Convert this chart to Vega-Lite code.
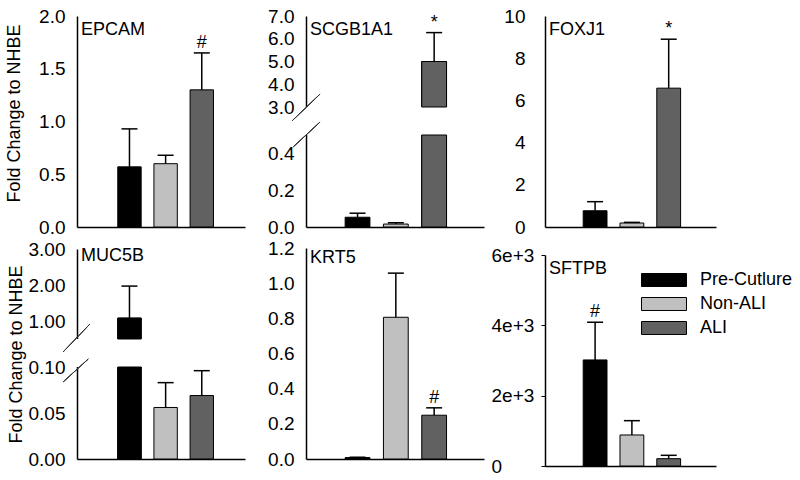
{
  "$schema": "https://vega.github.io/schema/vega-lite/v6.json",
  "padding": {"left": 5, "top": 7, "right": 0, "bottom": 0},
  "background": "white",
  "datasets": {
    "d": [
      {"gene": "EPCAM", "group": "Pre-Cutlure", "mean": 0.57, "upper": 0.93, "sig": ""},
      {"gene": "EPCAM", "group": "Non-ALI", "mean": 0.6, "upper": 0.68, "sig": ""},
      {"gene": "EPCAM", "group": "ALI", "mean": 1.3, "upper": 1.65, "sig": "#"},
      {"gene": "SCGB1A1", "group": "Pre-Cutlure", "mean": 0.053, "upper": 0.075, "sig": ""},
      {"gene": "SCGB1A1", "group": "Non-ALI", "mean": 0.016, "upper": 0.023, "sig": ""},
      {"gene": "SCGB1A1", "group": "ALI", "mean": 5.0, "upper": 6.27, "sig": "*"},
      {"gene": "FOXJ1", "group": "Pre-Cutlure", "mean": 0.77, "upper": 1.2, "sig": ""},
      {"gene": "FOXJ1", "group": "Non-ALI", "mean": 0.19, "upper": 0.22, "sig": ""},
      {"gene": "FOXJ1", "group": "ALI", "mean": 6.58, "upper": 8.9, "sig": "*"},
      {"gene": "MUC5B", "group": "Pre-Cutlure", "mean": 1.08, "upper": 1.97, "sig": ""},
      {"gene": "MUC5B", "group": "Non-ALI", "mean": 0.056, "upper": 0.083, "sig": ""},
      {"gene": "MUC5B", "group": "ALI", "mean": 0.069, "upper": 0.096, "sig": ""},
      {"gene": "KRT5", "group": "Pre-Cutlure", "mean": 0.008, "upper": 0.01, "sig": ""},
      {"gene": "KRT5", "group": "Non-ALI", "mean": 0.806, "upper": 1.057, "sig": ""},
      {"gene": "KRT5", "group": "ALI", "mean": 0.249, "upper": 0.291, "sig": "#"},
      {"gene": "SFTPB", "group": "Pre-Cutlure", "mean": 3016, "upper": 4088, "sig": "#"},
      {"gene": "SFTPB", "group": "Non-ALI", "mean": 882, "upper": 1289, "sig": ""},
      {"gene": "SFTPB", "group": "ALI", "mean": 208, "upper": 304, "sig": ""}
    ]
  },
  "config": {
    "view": {"stroke": null},
    "font": "Liberation Sans",
    "axis": {"labelFont": "Liberation Sans", "labelFontSize": 19, "labelColor": "black", "titleFont": "Liberation Sans", "titleFontSize": 18, "titleFontWeight": "normal", "titleColor": "black", "domainColor": "black", "domainWidth": 1.5, "grid": false, "ticks": false, "labelPadding": 12, "labelOverlap": false},
    "title": {"font": "Liberation Sans", "fontSize": 18, "fontWeight": "normal", "color": "black", "anchor": "start", "frame": "group", "baseline": "alphabetic", "offset": -32, "dx": 4},
    "legend": {"padding": 0}
  },
  "columns": 3,
  "spacing": {"row": 21, "column": 61},
  "bounds": "flush",
  "concat": [
    {
      "title": "EPCAM", "width": 168, "height": 211,
      "data": {"name": "d"},
      "transform": [{"filter": "datum.gene === 'EPCAM'"}],
      "encoding": {"x": {"field": "group", "type": "nominal", "scale": {"domain": ["Pre-Cutlure", "Non-ALI", "ALI"], "paddingInner": 0.353, "paddingOuter": 1.147, "align": 0.564}, "axis": {"labels": false, "ticks": false, "title": null}}},
      "layer": [
        {"mark": {"type": "bar", "stroke": "black", "strokeWidth": 1, "opacity": 1},
         "encoding": {"y": {"field": "mean", "type": "quantitative", "scale": {"domain": [0, 2], "nice": false, "zero": false}, "axis": {"values": [0, 0.5, 1, 1.5, 2], "tickCount": 20, "format": ".1f", "labelOverlap": false, "labelPadding": 12, "title": "Fold Change to NHBE", "titlePadding": 15, "titleY": 97}},
          "color": {"field": "group", "type": "nominal", "scale": {"domain": ["Pre-Cutlure", "Non-ALI", "ALI"], "range": ["#000000", "#c0c0c0", "#616161"]}, "legend": {"title": null, "orient": "none", "legendX": 572, "legendY": 249, "symbolType": "M-1.55,-0.448H1.55V0.448H-1.55Z", "symbolSize": 841, "symbolStrokeColor": "black", "symbolStrokeWidth": 1, "symbolOpacity": 1, "labelFontSize": 18, "labelFont": "Liberation Sans", "labelColor": "black", "rowPadding": 0, "labelOffset": 21}}}},
        {"mark": {"type": "rule", "color": "black", "strokeWidth": 1.5}, "encoding": {"y": {"field": "mean", "type": "quantitative"}, "y2": {"field": "upper"}}},
        {"mark": {"type": "tick", "color": "black", "thickness": 1.5, "size": 16, "opacity": 1}, "encoding": {"y": {"field": "upper", "type": "quantitative"}}},
        {"mark": {"type": "text", "fontSize": 18, "dy": -5, "baseline": "alphabetic", "color": "black", "font": "Liberation Sans"}, "encoding": {"y": {"field": "upper", "type": "quantitative"}, "text": {"field": "sig"}}}
      ]
    },
    {
      "title": "SCGB1A1", "width": 178, "height": 211,
      "data": {"name": "d"},
      "transform": [{"filter": "datum.gene === 'SCGB1A1'"}],
      "resolve": {"scale": {"x": "independent"}},
      "layer": [
        {
          "encoding": {"x": {"field": "group", "type": "nominal", "scale": {"domain": ["Pre-Cutlure", "Non-ALI", "ALI"], "paddingInner": 0.353, "paddingOuter": 1.294, "align": 0.511}, "axis": {"labels": false, "ticks": false, "title": null}}},
          "layer": [
            {"mark": {"type": "bar", "stroke": "black", "strokeWidth": 1, "opacity": 1},
             "encoding": {"y": {"field": "mean", "type": "quantitative", "scale": {"domain": [0, 0.5, 3, 7], "range": [211, 119, 91, 0], "nice": false, "zero": false}, "axis": {"values": [0, 0.2, 0.4, 3, 4, 5, 6, 7], "tickCount": 20, "format": ".1f", "labelOverlap": false, "labelPadding": 12, "title": ""}},
              "color": {"field": "group", "type": "nominal", "scale": {"domain": ["Pre-Cutlure", "Non-ALI", "ALI"], "range": ["#000000", "#c0c0c0", "#616161"]}, "legend": {"title": null, "orient": "none", "legendX": 572, "legendY": 249, "symbolType": "M-1.55,-0.448H1.55V0.448H-1.55Z", "symbolSize": 841, "symbolStrokeColor": "black", "symbolStrokeWidth": 1, "symbolOpacity": 1, "labelFontSize": 18, "labelFont": "Liberation Sans", "labelColor": "black", "rowPadding": 0, "labelOffset": 21}}}},
            {"mark": {"type": "rule", "color": "black", "strokeWidth": 1.5}, "encoding": {"y": {"field": "mean", "type": "quantitative"}, "y2": {"field": "upper"}}},
            {"mark": {"type": "tick", "color": "black", "thickness": 1.5, "size": 16, "opacity": 1}, "encoding": {"y": {"field": "upper", "type": "quantitative"}}},
            {"mark": {"type": "text", "fontSize": 18, "dy": -5, "baseline": "alphabetic", "color": "black", "font": "Liberation Sans"}, "encoding": {"y": {"field": "upper", "type": "quantitative"}, "text": {"field": "sig"}}}
          ]
        },
        {"mark": {"type": "rect", "color": "white", "opacity": 1},
         "encoding": {"x": {"datum": -0.015, "type": "quantitative", "scale": {"domain": [0, 1], "nice": false, "zero": false}, "axis": null}, "x2": {"datum": 1}, "y": {"datum": 0.5, "type": "quantitative"}, "y2": {"datum": 3}}},
        {
          "encoding": {"x": {"field": "group", "type": "nominal", "scale": {"domain": ["Pre-Cutlure", "Non-ALI", "ALI"], "paddingInner": 0.353, "paddingOuter": 1.294, "align": 0.511}, "axis": null}},
          "transform": [{"filter": "datum.mean > 3"}],
          "layer": [
            {"mark": {"type": "bar", "stroke": "black", "strokeWidth": 1, "opacity": 1}, "encoding": {"y": {"field": "mean", "type": "quantitative"}, "y2": {"datum": 3}, "color": {"field": "group", "type": "nominal"}}},
            {"mark": {"type": "bar", "stroke": "black", "strokeWidth": 1, "opacity": 1}, "encoding": {"y": {"datum": 0.5, "type": "quantitative"}, "y2": {"datum": 0}, "color": {"field": "group", "type": "nominal"}}}
          ]
        },
        {"mark": {"type": "rule", "color": "#333333", "strokeWidth": 1},
         "encoding": {"x": {"datum": -0.077, "type": "quantitative", "scale": {"domain": [0, 1], "nice": false, "zero": false}, "axis": null}, "x2": {"datum": 0.079}, "y": {"datum": 1.78, "type": "quantitative"}, "y2": {"datum": 3.57}}},
        {"mark": {"type": "rule", "color": "#333333", "strokeWidth": 1},
         "encoding": {"x": {"datum": -0.071, "type": "quantitative", "scale": {"domain": [0, 1], "nice": false, "zero": false}, "axis": null}, "x2": {"datum": 0.079}, "y": {"datum": 0.436, "type": "quantitative"}, "y2": {"datum": 1.66}}}
      ]
    },
    {
      "title": "FOXJ1", "width": 171, "height": 211,
      "data": {"name": "d"},
      "transform": [{"filter": "datum.gene === 'FOXJ1'"}],
      "encoding": {"x": {"field": "group", "type": "nominal", "scale": {"domain": ["Pre-Cutlure", "Non-ALI", "ALI"], "paddingInner": 0.353, "paddingOuter": 1.191, "align": 0.519}, "axis": {"labels": false, "ticks": false, "title": null}}},
      "layer": [
        {"mark": {"type": "bar", "stroke": "black", "strokeWidth": 1, "opacity": 1},
         "encoding": {"y": {"field": "mean", "type": "quantitative", "scale": {"domain": [0, 10], "nice": false, "zero": false}, "axis": {"values": [0, 2, 4, 6, 8, 10], "tickCount": 20, "format": "d", "labelOverlap": false, "title": "", "labelPadding": 20}},
          "color": {"field": "group", "type": "nominal", "scale": {"domain": ["Pre-Cutlure", "Non-ALI", "ALI"], "range": ["#000000", "#c0c0c0", "#616161"]}, "legend": {"title": null, "orient": "none", "legendX": 572, "legendY": 249, "symbolType": "M-1.55,-0.448H1.55V0.448H-1.55Z", "symbolSize": 841, "symbolStrokeColor": "black", "symbolStrokeWidth": 1, "symbolOpacity": 1, "labelFontSize": 18, "labelFont": "Liberation Sans", "labelColor": "black", "rowPadding": 0, "labelOffset": 21}}}},
        {"mark": {"type": "rule", "color": "black", "strokeWidth": 1.5}, "encoding": {"y": {"field": "mean", "type": "quantitative"}, "y2": {"field": "upper"}}},
        {"mark": {"type": "tick", "color": "black", "thickness": 1.5, "size": 16, "opacity": 1}, "encoding": {"y": {"field": "upper", "type": "quantitative"}}},
        {"mark": {"type": "text", "fontSize": 18, "dy": -5, "baseline": "alphabetic", "color": "black", "font": "Liberation Sans"}, "encoding": {"y": {"field": "upper", "type": "quantitative"}, "text": {"field": "sig"}}}
      ]
    },
    {
      "title": {"text": "MUC5B", "offset": -25}, "width": 168, "height": 211,
      "data": {"name": "d"},
      "transform": [{"filter": "datum.gene === 'MUC5B'"}],
      "resolve": {"scale": {"x": "independent"}},
      "layer": [
        {
          "encoding": {"x": {"field": "group", "type": "nominal", "scale": {"domain": ["Pre-Cutlure", "Non-ALI", "ALI"], "paddingInner": 0.353, "paddingOuter": 1.147, "align": 0.564}, "axis": {"labels": false, "ticks": false, "title": null}}},
          "layer": [
            {"mark": {"type": "bar", "stroke": "black", "strokeWidth": 1, "opacity": 1},
             "encoding": {"y": {"field": "mean", "type": "quantitative", "scale": {"domain": [0, 0.1, 0.5, 3], "range": [211, 119, 91, 1], "nice": false, "zero": false}, "axis": {"values": [0, 0.05, 0.1, 1, 2, 3], "tickCount": 20, "format": ".2f", "labelOverlap": false, "labelPadding": 12, "title": "Fold Change to NHBE", "titlePadding": 3}},
              "color": {"field": "group", "type": "nominal", "scale": {"domain": ["Pre-Cutlure", "Non-ALI", "ALI"], "range": ["#000000", "#c0c0c0", "#616161"]}, "legend": {"title": null, "orient": "none", "legendX": 572, "legendY": 249, "symbolType": "M-1.55,-0.448H1.55V0.448H-1.55Z", "symbolSize": 841, "symbolStrokeColor": "black", "symbolStrokeWidth": 1, "symbolOpacity": 1, "labelFontSize": 18, "labelFont": "Liberation Sans", "labelColor": "black", "rowPadding": 0, "labelOffset": 21}}}},
            {"mark": {"type": "rule", "color": "black", "strokeWidth": 1.5}, "encoding": {"y": {"field": "mean", "type": "quantitative"}, "y2": {"field": "upper"}}},
            {"mark": {"type": "tick", "color": "black", "thickness": 1.5, "size": 16, "opacity": 1}, "encoding": {"y": {"field": "upper", "type": "quantitative"}}}
          ]
        },
        {"mark": {"type": "rect", "color": "white", "opacity": 1},
         "encoding": {"x": {"datum": -0.015, "type": "quantitative", "scale": {"domain": [0, 1], "nice": false, "zero": false}, "axis": null}, "x2": {"datum": 1}, "y": {"datum": 0.1, "type": "quantitative"}, "y2": {"datum": 0.5}}},
        {
          "encoding": {"x": {"field": "group", "type": "nominal", "scale": {"domain": ["Pre-Cutlure", "Non-ALI", "ALI"], "paddingInner": 0.353, "paddingOuter": 1.147, "align": 0.564}, "axis": null}},
          "transform": [{"filter": "datum.mean > 0.5"}],
          "layer": [
            {"mark": {"type": "bar", "stroke": "black", "strokeWidth": 1, "opacity": 1}, "encoding": {"y": {"field": "mean", "type": "quantitative"}, "y2": {"datum": 0.5}, "color": {"field": "group", "type": "nominal"}}},
            {"mark": {"type": "bar", "stroke": "black", "strokeWidth": 1, "opacity": 1}, "encoding": {"y": {"datum": 0.1, "type": "quantitative"}, "y2": {"datum": 0}, "color": {"field": "group", "type": "nominal"}}}
          ]
        },
        {"mark": {"type": "rule", "color": "#333333", "strokeWidth": 1},
         "encoding": {"x": {"datum": -0.083, "type": "quantitative", "scale": {"domain": [0, 1], "nice": false, "zero": false}, "axis": null}, "x2": {"datum": 0.077}, "y": {"datum": 0.314, "type": "quantitative"}, "y2": {"datum": 0.917}}},
        {"mark": {"type": "rule", "color": "#333333", "strokeWidth": 1},
         "encoding": {"x": {"datum": -0.081, "type": "quantitative", "scale": {"domain": [0, 1], "nice": false, "zero": false}, "axis": null}, "x2": {"datum": 0.067}, "y": {"datum": 0.084, "type": "quantitative"}, "y2": {"datum": 0.214}}}
      ]
    },
    {
      "title": {"text": "KRT5", "offset": -28}, "width": 178, "height": 211,
      "data": {"name": "d"},
      "transform": [{"filter": "datum.gene === 'KRT5'"}],
      "encoding": {"x": {"field": "group", "type": "nominal", "scale": {"domain": ["Pre-Cutlure", "Non-ALI", "ALI"], "paddingInner": 0.353, "paddingOuter": 1.294, "align": 0.511}, "axis": {"labels": false, "ticks": false, "title": null}}},
      "layer": [
        {"mark": {"type": "bar", "stroke": "black", "strokeWidth": 1, "opacity": 1},
         "encoding": {"y": {"field": "mean", "type": "quantitative", "scale": {"domain": [0, 1.2], "nice": false, "zero": false}, "axis": {"values": [0, 0.2, 0.4, 0.6, 0.8, 1, 1.2], "tickCount": 20, "format": ".1f", "labelOverlap": false, "labelPadding": 12, "title": ""}},
          "color": {"field": "group", "type": "nominal", "scale": {"domain": ["Pre-Cutlure", "Non-ALI", "ALI"], "range": ["#000000", "#c0c0c0", "#616161"]}, "legend": {"title": null, "orient": "none", "legendX": 572, "legendY": 249, "symbolType": "M-1.55,-0.448H1.55V0.448H-1.55Z", "symbolSize": 841, "symbolStrokeColor": "black", "symbolStrokeWidth": 1, "symbolOpacity": 1, "labelFontSize": 18, "labelFont": "Liberation Sans", "labelColor": "black", "rowPadding": 0, "labelOffset": 21}}}},
        {"mark": {"type": "rule", "color": "black", "strokeWidth": 1.5}, "encoding": {"y": {"field": "mean", "type": "quantitative"}, "y2": {"field": "upper"}}},
        {"mark": {"type": "tick", "color": "black", "thickness": 1.5, "size": 16, "opacity": 1}, "encoding": {"y": {"field": "upper", "type": "quantitative"}}},
        {"mark": {"type": "text", "fontSize": 18, "dy": -5, "baseline": "alphabetic", "color": "black", "font": "Liberation Sans"}, "encoding": {"y": {"field": "upper", "type": "quantitative"}, "text": {"field": "sig"}}}
      ]
    },
    {
      "title": "SFTPB", "width": 171, "height": 211,
      "data": {"name": "d"},
      "transform": [{"filter": "datum.gene === 'SFTPB'"}],
      "encoding": {"x": {"field": "group", "type": "nominal", "scale": {"domain": ["Pre-Cutlure", "Non-ALI", "ALI"], "paddingInner": 0.353, "paddingOuter": 1.191, "align": 0.519}, "axis": {"labels": false, "ticks": false, "title": null, "offset": 7}}},
      "layer": [
        {"mark": {"type": "bar", "stroke": "black", "strokeWidth": 1, "opacity": 1},
         "encoding": {"y": {"field": "mean", "type": "quantitative", "scale": {"domain": [0, 6000], "range": [218, 7], "nice": false, "zero": false}, "axis": {"values": [0, 2000, 4000, 6000], "tickCount": 20, "labelExpr": "datum.value == 0 ? '0' : format(datum.value, '.0e')", "labelOverlap": false, "title": "", "ticks": true, "tickSize": 4, "tickColor": "black", "tickWidth": 1, "labelAlign": "left", "labelPadding": 50}},
          "color": {"field": "group", "type": "nominal", "scale": {"domain": ["Pre-Cutlure", "Non-ALI", "ALI"], "range": ["#000000", "#c0c0c0", "#616161"]}, "legend": {"title": null, "orient": "none", "legendX": 572, "legendY": 249, "symbolType": "M-1.55,-0.448H1.55V0.448H-1.55Z", "symbolSize": 841, "symbolStrokeColor": "black", "symbolStrokeWidth": 1, "symbolOpacity": 1, "labelFontSize": 18, "labelFont": "Liberation Sans", "labelColor": "black", "rowPadding": 0, "labelOffset": 21}}}},
        {"mark": {"type": "rule", "color": "black", "strokeWidth": 1.5}, "encoding": {"y": {"field": "mean", "type": "quantitative"}, "y2": {"field": "upper"}}},
        {"mark": {"type": "tick", "color": "black", "thickness": 1.5, "size": 16, "opacity": 1}, "encoding": {"y": {"field": "upper", "type": "quantitative"}}},
        {"mark": {"type": "text", "fontSize": 18, "dy": -5, "baseline": "alphabetic", "color": "black", "font": "Liberation Sans"}, "encoding": {"y": {"field": "upper", "type": "quantitative"}, "text": {"field": "sig"}}}
      ]
    }
  ]
}
